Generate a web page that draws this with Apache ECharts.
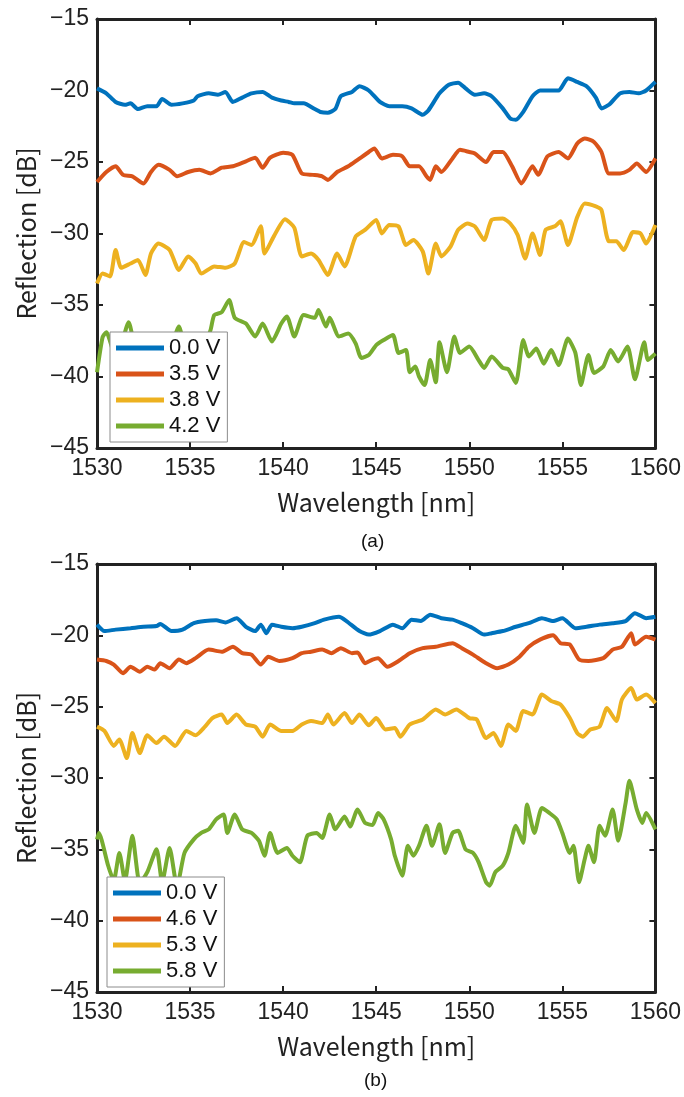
<!DOCTYPE html>
<html>
<head>
    <title>Reflection spectra</title>
    <meta charset="utf-8">
    <script src="https://cdn.jsdelivr.net/npm/echarts@6/dist/echarts.min.js"></script>
    <style>
        html, body { margin: 0; padding: 0; background: #fff; }
        #chart { width: 684px; height: 1097px; }
    </style>
</head>
<body>
    <div id="chart"></div>
    <script>
    // wavelength [nm], reflection [dB]
    // panel (a)
    var a00 = [[1530,-19.85],[1530.5,-20.2],[1531,-20.8],[1531.5,-21.0],[1531.8,-20.9],[1532.2,-21.3],[1532.7,-21.1],[1533.2,-21.1],[1533.5,-20.6],[1534,-21.0],[1534.6,-20.9],[1535.2,-20.7],[1535.4,-20.4],[1536,-20.2],[1536.5,-20.3],[1536.9,-20.1],[1537.3,-20.8],[1537.8,-20.5],[1538.3,-20.2],[1538.9,-20.1],[1539.4,-20.5],[1539.9,-20.7],[1540.3,-20.8],[1540.6,-20.9],[1541.1,-20.9],[1541.7,-21.3],[1542,-21.5],[1542.4,-21.55],[1542.8,-21.3],[1543.1,-20.4],[1543.7,-20.1],[1544.1,-19.7],[1544.6,-20.0],[1545.2,-20.8],[1545.7,-21.1],[1546.4,-21.1],[1546.9,-21.25],[1547.5,-21.7],[1547.8,-21.4],[1548.4,-20.2],[1548.9,-19.6],[1549.4,-19.45],[1549.8,-19.85],[1550.3,-20.3],[1550.8,-20.2],[1551.2,-20.4],[1551.8,-21.25],[1552.2,-21.95],[1552.5,-22.05],[1552.9,-21.5],[1553.4,-20.4],[1553.8,-20.0],[1554.4,-20.0],[1554.8,-20.0],[1555.3,-19.15],[1555.8,-19.4],[1556.3,-19.7],[1556.8,-20.5],[1557.1,-21.25],[1557.5,-21.0],[1558.1,-20.2],[1558.6,-20.1],[1559.1,-20.2],[1559.5,-20.0],[1560,-19.4]];
    var a35 = [[1530,-26.4],[1530.5,-25.7],[1531,-25.3],[1531.4,-25.9],[1531.9,-26.0],[1532.5,-26.5],[1532.9,-25.7],[1533.3,-25.2],[1533.9,-25.55],[1534.3,-26.0],[1534.9,-25.7],[1535.5,-25.55],[1536.1,-25.8],[1536.7,-25.4],[1537.3,-25.3],[1538,-24.95],[1538.5,-24.7],[1538.9,-25.4],[1539.3,-24.7],[1540,-24.35],[1540.5,-24.5],[1541,-25.8],[1541.6,-25.9],[1542.1,-26.0],[1542.4,-26.25],[1542.9,-25.7],[1543.5,-25.3],[1544,-24.85],[1544.6,-24.3],[1544.9,-24.05],[1545.3,-24.75],[1545.9,-24.5],[1546.4,-24.6],[1546.8,-25.3],[1547.3,-25.3],[1547.7,-26.0],[1547.9,-26.25],[1548.2,-25.3],[1548.5,-25.7],[1549.1,-24.75],[1549.5,-24.15],[1550,-24.3],[1550.3,-24.4],[1550.9,-25.0],[1551.3,-24.3],[1551.8,-24.3],[1552.3,-25.3],[1552.8,-26.5],[1553.4,-25.3],[1553.7,-25.9],[1554.2,-24.6],[1554.8,-24.3],[1555.3,-24.75],[1555.8,-23.7],[1556.2,-23.35],[1556.7,-23.6],[1557.1,-24.3],[1557.5,-25.8],[1558.1,-25.8],[1558.6,-25.55],[1559,-25.1],[1559.5,-25.7],[1560,-24.75]];
    var a38 = [[1530,-33.5],[1530.3,-32.8],[1530.7,-33.0],[1531,-31.15],[1531.3,-32.4],[1531.8,-32.1],[1532.2,-31.85],[1532.6,-32.9],[1532.9,-31.4],[1533.3,-30.7],[1533.9,-31.15],[1534.4,-32.55],[1534.9,-31.6],[1535.3,-32.1],[1535.6,-32.8],[1536.3,-32.3],[1536.9,-32.4],[1537.4,-32.1],[1537.9,-30.6],[1538.3,-30.8],[1538.8,-29.5],[1539,-31.4],[1539.5,-30.2],[1540.1,-29.0],[1540.6,-29.6],[1541,-31.6],[1541.5,-31.4],[1541.9,-31.85],[1542.4,-32.9],[1542.9,-31.4],[1543.3,-32.3],[1543.9,-30.2],[1544.4,-29.75],[1545,-29.05],[1545.3,-30.0],[1545.7,-29.4],[1546.2,-29.5],[1546.6,-30.8],[1547,-30.45],[1547.5,-31.25],[1547.8,-32.8],[1548.2,-30.7],[1548.5,-31.6],[1549,-30.9],[1549.4,-29.75],[1549.9,-29.3],[1550.3,-29.5],[1550.8,-30.45],[1551.2,-29.05],[1551.8,-28.95],[1552.2,-29.3],[1552.6,-30.1],[1553,-31.75],[1553.4,-30.0],[1553.8,-31.5],[1554.1,-29.75],[1554.6,-29.5],[1554.9,-29.15],[1555.3,-30.8],[1555.8,-28.85],[1556.2,-27.9],[1556.8,-28.1],[1557.1,-28.35],[1557.5,-30.55],[1557.9,-30.55],[1558.3,-31.15],[1558.8,-29.9],[1559.2,-30.0],[1559.5,-30.7],[1560,-29.4]];
    var a42 = [[1530,-39.7],[1530.3,-37.25],[1530.5,-36.9],[1531,-38.6],[1531.3,-37.8],[1531.7,-36.2],[1532.1,-38.3],[1532.6,-39.0],[1533.1,-38.2],[1533.6,-39.2],[1534,-37.9],[1534.4,-36.5],[1534.8,-38.5],[1535.3,-39.0],[1535.8,-37.8],[1536.1,-36.75],[1536.3,-35.7],[1536.7,-35.5],[1537.1,-34.65],[1537.4,-35.9],[1538,-36.3],[1538.5,-37.2],[1538.9,-36.3],[1539.4,-37.55],[1539.9,-36.3],[1540.2,-35.8],[1540.6,-37.2],[1541.1,-35.7],[1541.7,-35.9],[1541.9,-35.35],[1542.3,-36.5],[1542.5,-35.9],[1543,-37.2],[1543.5,-37.0],[1543.9,-37.7],[1544.2,-38.7],[1544.6,-38.5],[1545,-37.8],[1545.4,-37.45],[1545.9,-37.1],[1546.2,-38.35],[1546.6,-38.15],[1546.8,-39.7],[1547.1,-39.3],[1547.3,-40.0],[1547.6,-40.6],[1547.9,-38.85],[1548.2,-40.4],[1548.4,-37.6],[1548.8,-39.7],[1549.2,-37.2],[1549.5,-38.35],[1550,-37.9],[1550.5,-38.85],[1550.8,-39.4],[1551.2,-38.6],[1551.8,-39.4],[1552.1,-39.5],[1552.5,-40.45],[1552.9,-37.45],[1553.2,-38.6],[1553.6,-38.05],[1554,-39.1],[1554.4,-38.15],[1554.8,-39.2],[1555.3,-37.35],[1555.7,-38.35],[1556,-40.6],[1556.4,-38.5],[1556.7,-39.75],[1557.2,-39.3],[1557.6,-38.15],[1558,-38.95],[1558.5,-37.9],[1558.9,-40.2],[1559.4,-37.6],[1559.6,-38.85],[1560,-38.4]];

    // panel (b)
    var b00 = [[1530,-19.25],[1530.4,-19.7],[1531,-19.6],[1531.8,-19.5],[1532.5,-19.4],[1533.2,-19.35],[1533.4,-19.2],[1534,-19.7],[1534.6,-19.6],[1535.2,-19.15],[1535.8,-19.0],[1536.4,-18.95],[1536.9,-19.1],[1537.5,-18.8],[1538,-19.4],[1538.5,-19.7],[1538.8,-19.25],[1539.1,-19.85],[1539.4,-19.25],[1539.9,-19.4],[1540.5,-19.5],[1541,-19.4],[1541.7,-19.15],[1542.2,-18.9],[1543,-18.7],[1543.4,-19.0],[1544.1,-19.7],[1544.6,-19.95],[1545.2,-19.7],[1545.9,-19.25],[1546.4,-19.5],[1546.9,-18.9],[1547.4,-19.0],[1547.9,-18.55],[1548.5,-18.8],[1549.1,-18.9],[1549.6,-19.15],[1550.2,-19.5],[1550.8,-19.95],[1551.2,-19.85],[1551.8,-19.7],[1552.5,-19.4],[1553.2,-19.15],[1553.9,-18.8],[1554.5,-19.0],[1555,-18.8],[1555.7,-19.5],[1556.3,-19.4],[1557,-19.25],[1557.7,-19.15],[1558.4,-19.0],[1558.9,-18.45],[1559.5,-18.8],[1560,-18.7]];
    var b46 = [[1530,-21.7],[1530.5,-21.8],[1530.9,-22.05],[1531.4,-22.65],[1531.8,-22.2],[1532.3,-22.55],[1532.7,-22.2],[1533.1,-22.4],[1533.4,-21.95],[1533.9,-22.3],[1534.4,-21.7],[1534.8,-21.95],[1535.3,-21.6],[1536,-21.0],[1536.7,-21.15],[1537.3,-20.8],[1537.8,-21.25],[1538.3,-21.35],[1538.8,-22.05],[1539.2,-21.5],[1539.8,-21.8],[1540.5,-21.6],[1541,-21.25],[1541.5,-21.15],[1542.1,-21.0],[1542.6,-21.25],[1543.1,-20.9],[1543.7,-21.25],[1544,-21.2],[1544.4,-21.95],[1544.8,-21.7],[1545.1,-21.6],[1545.6,-22.2],[1546.2,-21.8],[1546.8,-21.25],[1547.5,-20.9],[1548.2,-20.8],[1549.1,-20.55],[1549.6,-20.9],[1550.2,-21.35],[1550.9,-21.95],[1551.5,-22.3],[1552.1,-22.05],[1552.7,-21.5],[1553.2,-20.8],[1553.8,-20.3],[1554.5,-20.0],[1554.9,-20.55],[1555.4,-20.65],[1555.9,-21.7],[1556.4,-21.8],[1557.2,-21.6],[1557.7,-21.0],[1558.2,-20.8],[1558.7,-19.85],[1558.9,-20.65],[1559.5,-20.1],[1560,-20.3]];
    var b53 = [[1530,-26.4],[1530.4,-26.7],[1530.9,-27.75],[1531.2,-27.3],[1531.6,-28.6],[1531.9,-26.85],[1532.3,-28.25],[1532.7,-27.0],[1533.2,-27.55],[1533.6,-27.1],[1534.2,-27.75],[1534.8,-26.7],[1535.3,-27.0],[1535.8,-26.4],[1536.2,-25.8],[1536.7,-25.55],[1537,-26.15],[1537.5,-25.55],[1538,-26.25],[1538.5,-26.4],[1538.9,-27.1],[1539.3,-26.25],[1539.9,-26.7],[1540.5,-26.7],[1541,-26.25],[1541.5,-26.0],[1542.1,-26.15],[1542.4,-25.55],[1542.7,-26.25],[1543.3,-25.45],[1543.7,-26.15],[1544.1,-25.55],[1544.6,-26.3],[1545,-25.8],[1545.5,-26.6],[1546,-26.5],[1546.3,-27.1],[1546.8,-26.25],[1547.5,-25.9],[1548.2,-25.2],[1548.7,-25.55],[1549.3,-25.2],[1550,-25.8],[1550.4,-25.9],[1550.9,-27.2],[1551.3,-26.85],[1551.7,-27.75],[1552.1,-26.25],[1552.5,-26.7],[1552.9,-25.3],[1553.4,-25.55],[1553.9,-24.15],[1554.4,-24.6],[1554.9,-24.85],[1555.4,-25.8],[1555.8,-26.85],[1556.1,-27.1],[1556.5,-26.6],[1557,-26.4],[1557.4,-25.1],[1557.9,-26.0],[1558.2,-24.5],[1558.7,-23.7],[1559,-24.5],[1559.5,-24.15],[1560,-24.75]];
    var b58 = [[1530,-34.3],[1530.1,-33.85],[1530.6,-36.15],[1530.9,-37.2],[1531.2,-35.25],[1531.5,-37.2],[1531.9,-34.05],[1532.3,-37.4],[1532.7,-36.6],[1533.2,-35.0],[1533.5,-37.3],[1533.9,-34.9],[1534.3,-37.6],[1534.7,-35.25],[1535.2,-34.3],[1535.6,-33.85],[1536,-33.6],[1536.4,-32.9],[1536.8,-32.55],[1537,-33.85],[1537.4,-32.55],[1537.8,-33.6],[1538.3,-33.85],[1538.7,-34.4],[1539,-35.45],[1539.3,-33.85],[1539.7,-35.25],[1540.2,-34.9],[1540.5,-35.45],[1540.9,-35.9],[1541.3,-34.05],[1541.8,-33.85],[1542.1,-34.2],[1542.5,-32.55],[1542.8,-33.6],[1543.3,-32.7],[1543.6,-33.4],[1544,-32.2],[1544.4,-33.15],[1544.8,-33.3],[1545.1,-32.45],[1545.4,-32.9],[1545.8,-34.3],[1546,-35.45],[1546.4,-36.85],[1546.7,-34.75],[1547,-35.45],[1547.3,-34.75],[1547.7,-33.35],[1548,-34.75],[1548.4,-33.25],[1548.7,-35.25],[1549.1,-33.85],[1549.4,-33.7],[1549.8,-35.0],[1550.2,-35.25],[1550.5,-35.9],[1550.9,-37.3],[1551.1,-37.55],[1551.4,-36.6],[1551.8,-36.15],[1552.1,-35.25],[1552.5,-33.35],[1552.9,-34.55],[1553.1,-31.85],[1553.5,-33.85],[1553.9,-32.1],[1554.3,-32.45],[1554.7,-32.9],[1555,-33.85],[1555.4,-35.25],[1555.6,-34.75],[1555.9,-37.3],[1556.2,-35.7],[1556.4,-34.75],[1556.7,-35.9],[1557,-33.35],[1557.3,-34.05],[1557.7,-32.2],[1558,-34.4],[1558.4,-31.75],[1558.6,-30.2],[1559,-32.2],[1559.3,-33.15],[1559.5,-32.45],[1560,-33.6]];

    var namesA = ['0.0 V', '3.5 V', '3.8 V', '4.2 V'];
    var namesB = ['0.0 V', '4.6 V', '5.3 V', '5.8 V'];
    var dataA = [a00, a35, a38, a42];
    var dataB = [b00, b46, b53, b58];
    var colors = ['#0072BD', '#D95319', '#EDB120', '#77AC30'];

    var axisColor = '#222';
    var tickFont = '"Liberation Sans", Arial, sans-serif';
    var titleFont = '"Noto Sans CJK JP", sans-serif';

    function minus(v) { return String(v).replace('-', '\u2212'); }

    function xAx(gi, top) {
        return {
            type: 'value', gridIndex: gi, position: top ? 'top' : 'bottom',
            min: 1530, max: 1560, interval: 5,
            axisLine: { show: true, lineStyle: { color: axisColor, width: 3 } },
            axisTick: { show: true, inside: true, length: 6, lineStyle: { color: axisColor, width: 2 } },
            axisLabel: { show: !top, color: '#222', fontSize: 23, fontFamily: tickFont, margin: 9,
                         formatter: function (v) { return String(v); } },
            splitLine: { show: false },
            name: top ? '' : 'Wavelength [nm]', nameLocation: 'middle', nameGap: 42,
            nameTextStyle: { color: '#222', fontSize: 25, fontFamily: titleFont }
        };
    }
    function yAx(gi, right) {
        return {
            type: 'value', gridIndex: gi, position: right ? 'right' : 'left',
            min: -45, max: -15, interval: 5,
            axisLine: { show: true, lineStyle: { color: axisColor, width: 3 } },
            axisTick: { show: true, inside: true, length: 6, lineStyle: { color: axisColor, width: 2 } },
            axisLabel: { show: !right, color: '#222', fontSize: 23, fontFamily: tickFont, margin: 8, formatter: minus },
            splitLine: { show: false },
            name: right ? '' : 'Reflection [dB]', nameLocation: 'middle', nameGap: 54,
            nameTextStyle: { color: '#222', fontSize: 25, fontFamily: titleFont }
        };
    }

    var series = [];
    function addSeries(names, data, gi) {
        for (var i = 0; i < names.length; i++) {
            series.push({
                type: 'line', name: names[i], data: data[i],
                xAxisIndex: gi * 2, yAxisIndex: gi * 2,
                showSymbol: false, smooth: 0.2,
                lineStyle: { width: 4, color: colors[i] },
                itemStyle: { color: colors[i] }
            });
        }
    }
    addSeries(namesA, dataA, 0);
    addSeries(namesB, dataB, 1);

    function legendAt(left, top, names) {
        return {
            data: names, orient: 'vertical', left: left, top: top, z: 10,
            icon: 'rect', itemWidth: 48, itemHeight: 5, itemGap: 4,
            padding: [5, 7, 5, 6],
            backgroundColor: '#fff', borderColor: '#8c8c8c', borderWidth: 1,
            selectedMode: false,
            textStyle: { color: '#111', fontSize: 22, fontFamily: tickFont }
        };
    }

    var chart = echarts.init(document.getElementById('chart'));
    chart.setOption({
        animation: false,
        backgroundColor: '#fff',
        grid: [
            { left: 97, top: 19, width: 560, height: 429 },
            { left: 97, top: 564, width: 560, height: 428 }
        ],
        xAxis: [xAx(0, false), xAx(0, true), xAx(1, false), xAx(1, true)],
        yAxis: [yAx(0, false), yAx(0, true), yAx(1, false), yAx(1, true)],
        legend: [legendAt(110, 332, namesA), legendAt(107, 877, namesB)],
        graphic: [
            { type: 'text', left: 361, top: 532, style: { text: '(a)', fontSize: 19, fontFamily: tickFont, fill: '#111' } },
            { type: 'text', left: 364, top: 1071, style: { text: '(b)', fontSize: 19, fontFamily: tickFont, fill: '#111' } }
        ],
        series: series
    });
    </script>
</body>
</html>
